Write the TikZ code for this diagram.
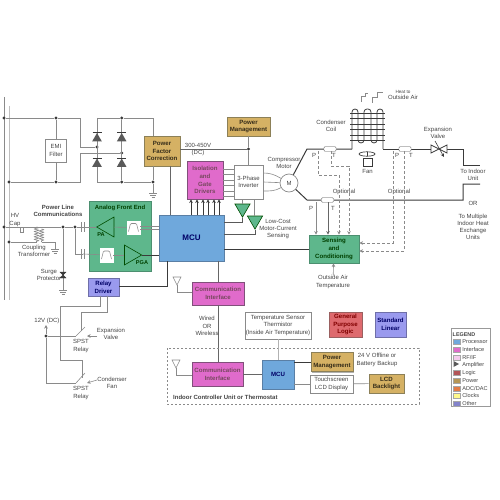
\documentclass[tikz,border=0pt]{standalone}
\usepackage{fontspec}
\setmainfont{Liberation Sans}
\usetikzlibrary{arrows.meta, positioning, shapes.geometric, calc, shadows, decorations.pathmorphing}
\definecolor{tanfill}{HTML}{D5B164}
\definecolor{tanedge}{HTML}{8C8058}
\definecolor{magfill}{HTML}{E06BCB}
\definecolor{magedge}{HTML}{80507A}
\definecolor{bluefill}{HTML}{6FA8DC}
\definecolor{blueedge}{HTML}{5A7FA5}
\definecolor{greenfill}{HTML}{5EB78C}
\definecolor{greenedge}{HTML}{4C8F70}
\definecolor{perifill}{HTML}{9A9AEE}
\definecolor{periedge}{HTML}{6F6FA8}
\definecolor{redfill}{HTML}{DE6A6E}
\definecolor{rededge}{HTML}{9A6060}
\definecolor{wiregray}{HTML}{8A8A8A}
\definecolor{wiredark}{HTML}{3A3A3A}
\definecolor{txtgray}{HTML}{444444}
\newcommand{\gndsym}[1]{
  \draw[wire] ($(#1)+(-4,0)$) -- ($(#1)+(4,0)$);
  \draw[wire] ($(#1)+(-3,2)$) -- ($(#1)+(3,2)$);
  \draw[wire] ($(#1)+(-1.5,4)$) -- ($(#1)+(1.5,4)$);
}
\newcommand{\capsym}[1]{
  \draw[wire] ($(#1)+(-1.5,-5)$) -- ($(#1)+(-1.5,5)$);
  \draw[wire] ($(#1)+(1.5,-5)$) -- ($(#1)+(1.5,5)$);
}
\newcommand{\bandsym}[1]{
  \draw[wire, rounded corners=1pt] ($(#1)+(-5,4)$) -- ($(#1)+(-3,-4)$) -- ($(#1)+(3,-4)$) -- ($(#1)+(5,4)$);
}
\newcommand{\diodebar}[1]{
  \draw[wiredark, thick] ($(#1.corner 1)+(-4.5,0)$) -- ($(#1.corner 1)+(4.5,0)$);
}
\begin{document}
\begin{tikzpicture}[
  x=1pt, y=-1pt, >={Stealth[length=3.6pt, width=3.6pt]},
  font=\fontsize{6}{7.2}\selectfont, text=txtgray,
  lbl/.style={inner sep=0, align=center},
  block/.style={rectangle, draw, line width=0.8pt, inner sep=0, align=center,
                drop shadow={shadow xshift=0.8pt, shadow yshift=-0.8pt, fill=black, opacity=0.3},
                font=\fontsize{6.1}{7.8}\selectfont\bfseries},
  powerbox/.style={block, fill=tanfill, draw=tanedge, text=black!75!tanfill},
  ifacebox/.style={block, fill=magfill, draw=magedge, text=black!60!magenta},
  mcubox/.style={block, fill=bluefill, draw=blueedge, text=blue!40!black},
  linbox/.style={block, fill=greenfill, draw=greenedge, text=green!25!black},
  stdbox/.style={block, fill=perifill, draw=periedge, text=blue!40!black},
  logicbox/.style={block, fill=redfill, draw=rededge, text=red!50!black},
  plainbox/.style={rectangle, draw=wiregray, fill=white, line width=0.7pt, inner sep=0, align=center},
  wire/.style={draw=wiregray, line width=0.6pt},
  pipe/.style={draw=wiredark, line width=1pt},
  bus/.style={draw=wiredark, line width=1pt},
  dashwire/.style={draw=wiregray, line width=0.6pt, densely dashed},
  dotnode/.style={circle, fill=wiredark, inner sep=0, minimum size=3.2pt},
  diode/.style={regular polygon, regular polygon sides=3, fill=black!65, inner sep=0, minimum size=11pt},
  amp/.style={regular polygon, regular polygon sides=3, draw=green!30!black, line width=0.6pt, fill=greenfill, inner sep=0},
  sensecap/.style={rectangle, rounded corners=1pt, draw=wiregray, fill=white, minimum width=12pt, minimum height=4.5pt, inner sep=0},
  swatch/.style={rectangle, draw=black!35, minimum width=7pt, minimum height=5pt, inner sep=0},
  legtext/.style={inner sep=0, font=\fontsize{5.6}{6.5}\selectfont}
]
  \useasboundingbox (0,0) rectangle (500,500);

  % rails and junctions
  \coordinate (railAtop) at (4,97);
  \coordinate (railAbot) at (4,300);
  \coordinate (railBtop) at (9,106);
  \coordinate (railBbot) at (9,300);
  \draw[wire] (railAtop) -- (railAbot);
  \draw[wire, draw=black!25] (railBtop) -- (railBbot);
  \node[dotnode] (ja1) at (4,118) {};
  \node[dotnode] (ja2) at (4,227) {};
  \node[dotnode] (jb1) at (9,182) {};
  \node[dotnode] (jb2) at (9,242) {};
  \node[dotnode] (je1) at (56,118) {};
  \node[dotnode] (je2) at (56,182) {};

  % EMI filter and bridge
  \node[plainbox, minimum width=21pt, minimum height=23pt] (emi) at (56,150.5) {EMI\\Filter};
  \draw[wire] (je1) -- (emi);
  \draw[wire] (je2) -- (emi);
  \node[dotnode] (bl) at (97,147) {};
  \node[dotnode] (br) at (121.7,153) {};
  \node[dotnode] (bt) at (121.7,118) {};
  \node[dotnode] (bb) at (121.7,182) {};
  \node[dotnode] (bg) at (153,182) {};
  \coordinate (btl) at (97,118);
  \coordinate (bbl) at (97,182);
  \coordinate (gnd1) at (153,193);
  \node[powerbox, minimum width=36pt, minimum height=30pt] (pfc) at (162,151) {Power\\Factor\\Correction};
  \draw[wire] (ja1) -- (je1) -- (80,118) -- (80,147) -- (bl);
  \draw[wire] (jb1) -- (je2) -- (80,182) -- (80,153) -- (br);
  \draw[wire] (btl) -- (bt) -| (153,136);
  \draw[wire] (bbl) -- (bb) -- (bg) -- (153,166);
  \draw[wire] (btl) -- (bbl);
  \draw[wire] (bt) -- (bb);
  \draw[wire] (bg) -- (gnd1);
  \gndsym{gnd1}
  \node[diode] (d1) at (97,138.5) {};
  \node[diode] (d2) at (121.7,138.5) {};
  \node[diode] (d3) at (97,164) {};
  \node[diode] (d4) at (121.7,164) {};
  \diodebar{d1}
  \diodebar{d2}
  \diodebar{d3}
  \diodebar{d4}

  % power line communications
  \node[lbl, font=\fontsize{6}{7.6}\selectfont\bfseries] (plc) at (58,211) {Power Line\\Communications};
  \node[lbl] (hv) at (15,220) {HV\\Cap};
  \node[lbl] (coupl) at (34,250.5) {Coupling\\Transformer};
  \node[lbl] (surge) at (49,275) {Surge\\Protector};
  \node[dotnode] (jp1) at (63,227) {};
  \node[dotnode] (jp2) at (75,227) {};
  \coordinate (cap1) at (83,227);
  \coordinate (cap2) at (83,254);
  \coordinate (hvcap) at (22,227);
  \coordinate (gnd2) at (55,249);
  \coordinate (gnd3) at (63,290);
  \coordinate (surgec) at (63,275);
  \draw[wire] (ja2) -- (jp1) -- (jp2) -- (cap1);
  \draw[wire] (jp1) -- (gnd3);
  \draw[wire] (jp2) |- (cap2);
  \capsym{cap1}
  \capsym{cap2}
  \draw[wire, fill=white] (20.5,227) rectangle (23.5,232);
  \gndsym{gnd3}
  \draw[wiredark, fill=wiredark] (60,272) -- (66,272) -- (60,278) -- (66,278) -- cycle;
  \coordinate (tp1) at (36.5,227);
  \coordinate (tp2) at (36.5,242);
  \coordinate (ts1) at (41.5,229);
  \coordinate (ts2) at (41.5,242);
  \draw[wire, decorate, decoration={coil, aspect=0, amplitude=2.2pt, segment length=2.6pt}] (tp1) -- (tp2);
  \draw[wire, decorate, decoration={coil, aspect=0, amplitude=2.2pt, segment length=2.6pt}] (ts1) -- (ts2);
  \draw[wire] (jb2) -- (tp2);
  \draw[wire] (ts2) -- (55,242) -- (gnd2);
  \gndsym{gnd2}

  % analog front end
  \node[linbox, minimum width=62pt, minimum height=70pt] (afe) at (120,236) {};
  \node[lbl, font=\fontsize{6}{7}\selectfont\bfseries, text=green!25!black] (afetxt) at (120,208) {Analog Front End};
  \node[amp, minimum size=23pt, shape border rotate=90] (pa) at (108.2,227) {};
  \node[amp, minimum size=23pt, shape border rotate=-90] (pga) at (130.2,255) {};
  \node[lbl, font=\fontsize{5.6}{6}\selectfont\bfseries, text=green!25!black] (patxt) at (101,235) {PA};
  \node[lbl, font=\fontsize{5.6}{6}\selectfont\bfseries, text=green!25!black] (pgatxt) at (142,263) {PGA};
  \node[plainbox, draw=white, minimum width=13pt, minimum height=13pt] (flt1) at (133.5,227.5) {};
  \node[plainbox, draw=white, minimum width=13pt, minimum height=14pt] (flt2) at (106.5,255) {};
  \bandsym{flt1}
  \bandsym{flt2}
  \draw[wire] (cap1) -- (pa.corner 1);
  \draw[wire] (cap2) -- (flt2);
  \draw[wire] (flt2) -- (pga);
  \draw[wire] (pa) -- (flt1);

  % MCU and drive
  \node[mcubox, minimum width=65pt, minimum height=46pt, font=\fontsize{8}{9}\selectfont\bfseries] (mcu) at (191.5,238) {MCU};
  \draw[wire] (flt1.east |- 0,226) -- (mcu.west |- 0,226);
  \draw[wire] (flt1.east |- 0,229) -- (mcu.west |- 0,229);
  \draw[bus] (pga.corner 1) -- (mcu.west |- pga.corner 1);
  \node[ifacebox, minimum width=36pt, minimum height=38pt] (iso) at (205,180) {Isolation\\and\\Gate\\Drivers};
  \draw[->, bus] (mcu.north -| 191,0) -- (iso.south -| 191,0);
  \draw[->, bus] (mcu.north -| 197,0) -- (iso.south -| 197,0);
  \draw[->, bus] (mcu.north -| 203,0) -- (iso.south -| 203,0);
  \draw[->, bus] (mcu.north -| 208,0) -- (iso.south -| 208,0);
  \draw[->, bus] (mcu.north -| 214,0) -- (iso.south -| 214,0);
  \draw[->, bus] (mcu.north -| 219,0) -- (iso.south -| 219,0);
  \draw[pipe, draw=black!60] (pfc.south -| 170,0) -- (mcu.north -| 170,0);
  \node[powerbox, minimum width=43pt, minimum height=19pt] (pm1) at (248.5,126.5) {Power\\Management};
  \node[plainbox, minimum width=29pt, minimum height=34pt] (inv) at (248.5,182) {3-Phase\\Inverter};
  \node[dotnode] (jdc) at (248.5,149) {};
  \draw[wire, draw=black!60] (pfc.east |- jdc) -- (jdc);
  \draw[wire] (pm1) -- (jdc) -- (inv);
  \node[lbl] (dctxt) at (198,149.5) {300-450V\\(DC)};
  \draw[wire] (iso.east |- 0,169) -- (inv.west |- 0,169);
  \draw[wire] (iso.east |- 0,174.5) -- (inv.west |- 0,174.5);
  \draw[wire] (iso.east |- 0,180) -- (inv.west |- 0,180);
  \draw[wire] (iso.east |- 0,185.5) -- (inv.west |- 0,185.5);
  \draw[wire] (iso.east |- 0,191) -- (inv.west |- 0,191);
  \draw[wire] (iso.east |- 0,196.5) -- (inv.west |- 0,196.5);
  \node[amp, minimum size=17.5pt, shape border rotate=180] (amp1) at (242.5,208.4) {};
  \node[amp, minimum size=17.5pt, shape border rotate=180] (amp2) at (255,220.4) {};
  \draw[wire] (amp1.corner 2 -| 242.5,0) -- (inv.south -| 242.5,0);
  \draw[wire] (amp2.north -| 254.5,0) -- (inv.south -| 254.5,0);
  \draw[pipe, draw=black!65] (amp1.corner 1) -- (242.5,222) -- (mcu.east |- 0,222);
  \draw[pipe, draw=black!65] (amp2.corner 1) -- (255,234) -- (mcu.east |- 0,234);
  \node[lbl] (sense) at (278,229) {Low-Cost\\Motor-Current\\Sensing};
  \node[circle, draw=wiregray, fill=white, line width=0.7pt, minimum size=18pt, inner sep=0] (mot) at (289,183) {M};
  \node[lbl] (comp) at (284,163) {Compressor\\Motor};
  \draw[wire] (inv.east |- 0,173) to[out=0, in=150] (mot);
  \draw[wire] (inv.east |- 0,182) -- (mot);
  \draw[wire] (inv.east |- 0,191) to[out=0, in=210] (mot);

  % refrigerant loop
  \coordinate (lt1) at (307,149);
  \coordinate (lt2) at (352,149);
  \coordinate (lt3) at (383,149);
  \coordinate (lv1) at (431,149);
  \coordinate (lv2) at (447,149);
  \coordinate (lo1) at (480,165);
  \coordinate (lo2) at (480,184);
  \coordinate (lb1) at (307,200);
  \node[sensecap] (s1) at (330,149) {};
  \node[sensecap] (s2) at (405,149) {};
  \node[sensecap] (s3) at (327.5,200) {};
  \draw[pipe] (mot) -- (lt1) -- (s1) -- (lt2);
  \draw[pipe] (lt3) -- (s2) -- (lv1);
  \draw[pipe] (lv2) -- (463,149) -- (463,165) -- (lo1);
  \draw[pipe] (lo2) -- (463,184) -- (463,200) -- (s3) -- (lb1) -- (mot);
  \node[sensecap] at (s1) {};
  \node[sensecap] at (s2) {};
  \node[sensecap] at (s3) {};
  \draw[draw=wiredark, line width=0.8pt, rounded corners=3pt] (lt2) -- (352,109) -- (358,109) -- (358,143) -- (364,143) -- (364,109) -- (371,109) -- (371,143) -- (377,143) -- (377,109) -- (383,109) -- (lt3);
  \draw[wiredark, line width=0.6pt] (350,113) -- (385,113);
  \draw[wiredark, line width=0.6pt] (350,118.5) -- (385,118.5);
  \draw[wiredark, line width=0.6pt] (350,124) -- (385,124);
  \draw[wiredark, line width=0.6pt] (350,129.5) -- (385,129.5);
  \draw[wiredark, line width=0.6pt] (350,135) -- (385,135);
  \draw[wiredark, line width=0.6pt] (350,140) -- (385,140);
  \draw[wiregray, line width=0.7pt] (361,102) -- (361,96) -- (365,96) -- (365,93) -- (368,93);
  \draw[wiregray, line width=0.7pt] (372,103) -- (372,97) -- (377,97) -- (377,92) -- (383,92);
  \node[lbl, font=\fontsize{4.6}{6}\selectfont] (heat) at (403,92) {Heat to};
  \node[lbl, below=1.5pt of heat] (air) {Outside Air};
  \node[lbl] (cond) at (331,126) {Condenser\\Coil};
  \node[plainbox, draw=wiredark, minimum width=9pt, minimum height=8pt] (fan) at (367.5,162) {};
  \node[lbl, below=3pt of fan] (fantxt) {Fan};
  \draw[wiredark, line width=0.7pt] (367,154) ellipse (8pt and 2.2pt);
  \draw[wiredark, line width=0.7pt] (367,152) -- (367,156);
  \draw[wiredark, fill=white, line width=0.7pt] (431,145) -- (447,153) -- (447,145) -- (431,153) -- cycle;
  \draw[wiredark, ->, line width=0.6pt] (435,141) -- (444,157);
  \node[lbl] (expv) at (438,133) {Expansion\\Valve};
  \node[lbl] (toin) at (473,175) {To Indoor\\Unit};
  \node[lbl] (ortxt) at (473,203) {OR};
  \node[lbl] (tomul) at (473,227) {To Multiple\\Indoor Heat\\Exchange\\Units};
  \node[lbl] (p1) at (314,155) {P};
  \node[lbl] (t1) at (334,155) {T};
  \node[lbl] (p2) at (397,155) {P};
  \node[lbl] (t2) at (411,155) {T};
  \node[lbl] (p3) at (311,208) {P};
  \node[lbl] (t3) at (333,208) {T};
  \node[lbl] (opt1) at (344,192) {Optional};
  \node[lbl] (opt2) at (399,192) {Optional};

  % sensing and conditioning
  \node[linbox, minimum width=50pt, minimum height=28pt] (cond2) at (334,249) {Sensing\\and\\Conditioning};
  \draw[->, wire] (s3.south -| 316,0) -- (cond2.north -| 316,0);
  \draw[->, pipe, draw=black!60, line width=0.8pt] (s3.south -| 328,0) -- (cond2.north -| 328,0);
  \draw[->, dashwire] (s1.south -| 318,0) -- (318,175) -- (339,175) -- (cond2.north -| 339,0);
  \draw[->, dashwire] (s1.south -| 331,0) -- (331,166) -- (349,166) -- (cond2.north -| 349,0);
  \draw[->, dashwire] (s2.south -| 393,0) -- (393,243) -- (cond2.east |- 0,243);
  \draw[->, dashwire] (s2.south -| 404,0) -- (404,251) -- (cond2.east |- 0,251);
  \draw[bus] (mcu.east |- 0,249.5) -- (cond2.west |- 0,249.5);
  \node[lbl] (outair) at (333,282) {Outside Air\\Temperature};
  \draw[->, wire] (outair) -- (cond2);

  % relay driver and relays
  \node[stdbox, minimum width=31pt, minimum height=18pt] (relay) at (103.5,287) {Relay\\Driver};
  \draw[bus] (mcu.south -| 167,0) -- (167,286) -- (relay.east |- 0,286);
  \coordinate (sw1a) at (76,336);
  \coordinate (sw1b) at (85,327);
  \coordinate (sw1c) at (87,336);
  \coordinate (sw2a) at (76,383);
  \coordinate (sw2b) at (85,373);
  \coordinate (sw2c) at (87,383);
  \node[dotnode] (jv) at (46,336) {};
  \coordinate (vtop) at (46,325);
  \draw[wire] (relay.south -| 100,0) -- (100,306) -- (60,306) -- (60,360) -- (82,360) -- (82,378);
  \draw[wire] (relay.south -| 107,0) -- (107,312) -- (81,312) -- (81,331);
  \draw[->, wire] (jv) -- (vtop);
  \draw[wire] (jv) -- (46,383) -- (sw2a);
  \draw[wire] (jv) -- (sw1a);
  \draw[wire] (sw1a) -- (sw1b);
  \draw[wire] (sw2a) -- (sw2b);
  \draw[->, wire] (97,336) -- (sw1c);
  \draw[->, wire] (97,380) -- (sw2c);
  \node[lbl] (v12) at (47,320.5) {12V (DC)};
  \node[lbl] (sp1) at (81,346) {SPST\\Relay};
  \node[lbl] (sp2) at (81,393) {SPST\\Relay};
  \node[lbl] (ev) at (111,334) {Expansion\\Valve};
  \node[lbl] (cf) at (112,383) {Condenser\\Fan};

  % communication
  \node[ifacebox, minimum width=52pt, minimum height=23pt] (com1) at (218,293.5) {Communication\\Interface};
  \node[ifacebox, minimum width=51pt, minimum height=24pt] (com2) at (217.5,374) {Communication\\Interface};
  \draw[pipe, draw=black!60] (mcu.south -| 218,0) -- (com1);
  \draw[pipe, draw=black!60] (com1.south -| 218,0) -- (com2.north -| 218,0);
  \node[lbl] (wired) at (207,326) {Wired\\OR\\Wireless};
  \draw[wire, fill=white] (173,277) -- (181,277) -- (177,285) -- cycle;
  \draw[wire] (177,285) -- (177,292) -- (com1.west |- 0,292);
  \draw[wire, fill=white] (172,360) -- (180,360) -- (176,368) -- cycle;
  \draw[wire] (176,368) -- (176,375) -- (com2.west |- 0,375);

  % indoor controller
  \draw[dashwire, dash pattern=on 2pt off 2pt] (167,348) rectangle (419,404);
  \node[lbl, anchor=west, font=\fontsize{6}{7}\selectfont\bfseries] (indoor) at (173,397) {Indoor Controller Unit or Thermostat};
  \node[mcubox, minimum width=32pt, minimum height=29pt] (mcu2) at (278,374.5) {MCU};
  \node[plainbox, minimum width=66pt, minimum height=27pt] (therm) at (278,325.5) {Temperature Sensor\\Thermistor\\(Inside Air Temperature)};
  \node[powerbox, minimum width=42pt, minimum height=19.5pt] (pm2) at (332,362) {Power\\Management};
  \node[plainbox, minimum width=43pt, minimum height=18pt] (touch) at (331.5,384) {Touchscreen\\LCD Display};
  \node[powerbox, minimum width=35pt, minimum height=19pt] (lcd) at (386.5,383.5) {LCD\\Backlight};
  \node[lbl] (batt) at (377,360) {24 V Offline or\\Battery Backup};
  \draw[wire, draw=black!30] (therm) -- (mcu2);
  \draw[pipe, draw=black!60] (com2.east |- 0,374) -- (mcu2.west |- 0,374);
  \draw[bus] (mcu2.east |- pm2) -- (pm2);
  \draw[wire] (mcu2.east |- touch) -- (touch);
  \draw[wire] (touch) -- (lcd);

  % logic and linear
  \node[logicbox, minimum width=33pt, minimum height=25pt] (gpl) at (345.5,324.5) {General\\Purpose\\Logic};
  \node[stdbox, minimum width=31pt, minimum height=25pt] (stl) at (390.5,324.5) {Standard\\Linear};

  % legend
  \node[plainbox, draw=black!40, minimum width=39pt, minimum height=78pt] (leg) at (470.5,367.5) {};
  \node[legtext, anchor=west, font=\fontsize{5.4}{6}\selectfont\bfseries] (legt) at (452.5,334.5) {LEGEND};
  \node[swatch, fill=bluefill] (lg1) at (457,342) {};
  \node[swatch, fill=magfill, below=2.3pt of lg1] (lg2) {};
  \node[swatch, fill=magfill!35, below=2.3pt of lg2] (lg3) {};
  \node[swatch, draw=none, below=2.3pt of lg3] (lg4) {};
  \node[swatch, fill=redfill!80!black, below=2.3pt of lg4] (lg5) {};
  \node[swatch, fill=tanfill!85!black, below=2.3pt of lg5] (lg6) {};
  \node[swatch, fill=tanfill!70!red, below=2.3pt of lg6] (lg7) {};
  \node[swatch, fill=yellow!45, below=2.3pt of lg7] (lg8) {};
  \node[swatch, fill=perifill!85!black, below=2.3pt of lg8] (lg9) {};
  \fill[black!65] (453.5,361) -- (459,364) -- (453.5,367) -- cycle;
  \node[legtext, right=1.5pt of lg1] (lt1x) {Processor};
  \node[legtext, right=1.5pt of lg2] (lt2x) {Interface};
  \node[legtext, right=1.5pt of lg3] (lt3x) {RF/IF};
  \node[legtext, right=1.5pt of lg4] (lt4x) {Amplifier};
  \node[legtext, right=1.5pt of lg5] (lt5x) {Logic};
  \node[legtext, right=1.5pt of lg6] (lt6x) {Power};
  \node[legtext, right=1.5pt of lg7] (lt7x) {ADC/DAC};
  \node[legtext, right=1.5pt of lg8] (lt8x) {Clocks};
  \node[legtext, right=1.5pt of lg9] (lt9x) {Other};
\end{tikzpicture}
\end{document}
